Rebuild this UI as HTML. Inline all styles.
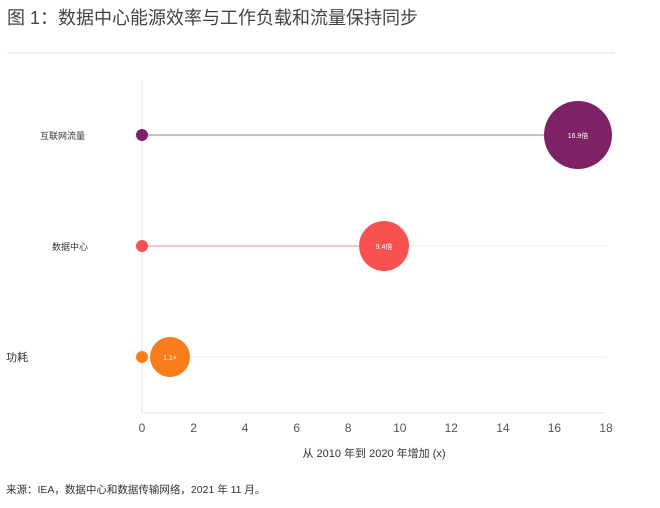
<!DOCTYPE html>
<html><head><meta charset="utf-8"><style>
body{margin:0;background:#fff;width:660px;height:503px;overflow:hidden;font-family:"Liberation Sans","Noto Sans CJK SC",sans-serif;}
</style></head><body>
<svg width="660" height="503" xmlns="http://www.w3.org/2000/svg" font-family="Liberation Sans, Noto Sans CJK SC, sans-serif">
<text x="7" y="24" font-size="18" fill="#444">图 1：数据中心能源效率与工作负载和流量保持同步</text>
<line x1="7" y1="53" x2="615" y2="53" stroke="#eee" stroke-width="2"/>
<line x1="142" y1="80" x2="142" y2="413" stroke="#eee" stroke-width="1.5"/>
<line x1="142" y1="413" x2="606" y2="413" stroke="#eee" stroke-width="1.5"/>
<g stroke="#eee" stroke-width="1">
<line x1="142" y1="135" x2="606" y2="135"/>
<line x1="142" y1="246" x2="606" y2="246"/>
<line x1="142" y1="357" x2="606" y2="357"/>
</g>
<line x1="142" y1="135" x2="578" y2="135" stroke="#c9a3bb" stroke-width="1.5"/>
<line x1="142" y1="246" x2="384" y2="246" stroke="#f6b3b1" stroke-width="1.5"/>
<circle cx="142" cy="135" r="6" fill="#7f2167"/>
<circle cx="578" cy="135" r="34" fill="#7f2167"/>
<circle cx="142" cy="246" r="6" fill="#f75150"/>
<circle cx="384" cy="246" r="25" fill="#f75150"/>
<circle cx="142" cy="357" r="6" fill="#f97d1c"/>
<circle cx="170" cy="357" r="20" fill="#f97d1c"/>
<g font-size="7" fill="#fff" text-anchor="middle">
<text x="578" y="138">16.9倍</text>
<text x="384" y="249">9.4倍</text>
<text x="170" y="360">1.1×</text>
</g>
<g font-size="9" fill="#333">
<text x="40" y="139">互联网流量</text>
<text x="52" y="250">数据中心</text>
<text x="6" y="361" font-size="11">功耗</text>
</g>
<g font-size="12" fill="#555" text-anchor="middle">
<text x="142" y="432">0</text><text x="193.6" y="432">2</text><text x="245.1" y="432">4</text>
<text x="296.7" y="432">6</text><text x="348.2" y="432">8</text><text x="399.8" y="432">10</text>
<text x="451.3" y="432">12</text><text x="502.9" y="432">14</text><text x="554.4" y="432">16</text>
<text x="606" y="432">18</text>
</g>
<text x="374" y="457" font-size="11" fill="#333" text-anchor="middle">从 2010 年到 2020 年增加 (x)</text>
<text x="6" y="493" font-size="10.5" fill="#333">来源：IEA，数据中心和数据传输网络，2021 年 11 月。</text>
</svg>
</body></html>
